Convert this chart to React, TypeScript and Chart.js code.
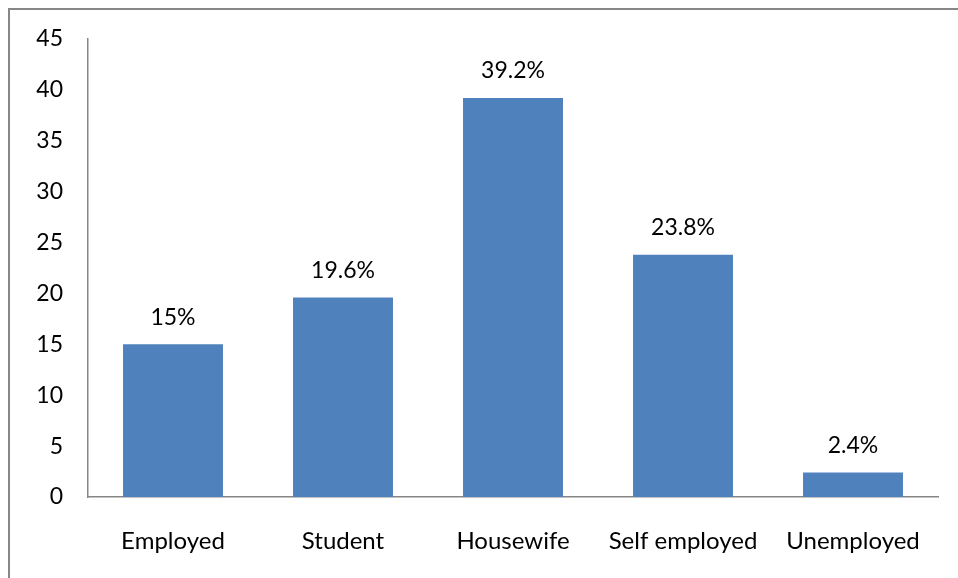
import React, { useEffect, useRef } from "react";
import { Chart, registerables } from "chart.js";

Chart.register(...registerables);

const categories = ["Employed", "Student", "Housewife", "Self employed", "Unemployed"];
const values = [15, 19.6, 39.2, 23.8, 2.4];
const valueLabels = ["15%", "19.6%", "39.2%", "23.8%", "2.4%"];

const FONT = "Lato, 'Liberation Sans', sans-serif";

const dataLabelPlugin = {
  id: "dataLabels",
  afterDatasetsDraw(chart: any) {
    const ctx = chart.ctx;
    const meta = chart.getDatasetMeta(0);
    ctx.save();
    ctx.font = `23px ${FONT}`;
    ctx.fillStyle = "#000";
    ctx.textAlign = "center";
    ctx.textBaseline = "middle";
    meta.data.forEach((bar: any, i: number) => {
      ctx.fillText(valueLabels[i], bar.x, bar.y - 27);
    });
    ctx.restore();
  },
};

export default function App() {
  const ref = useRef<HTMLCanvasElement>(null);
  useEffect(() => {
    if (!ref.current) return;
    const chart = new Chart(ref.current, {
      type: "bar",
      data: {
        labels: categories,
        datasets: [
          {
            data: values,
            backgroundColor: "#4F81BD",
            borderWidth: 0,
            barPercentage: 0.588,
            categoryPercentage: 1,
          },
        ],
      },
      options: {
        animation: false,
        responsive: false,
        maintainAspectRatio: false,
        devicePixelRatio: 1,
        layout: { padding: { top: 29, right: 20, left: 0, bottom: 0 } },
        plugins: { legend: { display: false }, tooltip: { enabled: false } },
        scales: {
          x: {
            grid: { display: false, drawTicks: false },
            border: { display: true, color: "#868686", width: 1.5 },
            ticks: {
              color: "#000",
              font: { family: FONT, size: 24 },
              padding: 30,
              maxRotation: 0,
              autoSkip: false,
            },
            afterFit: (s: any) => {
              s.height = 81;
              s.paddingLeft = 0;
              s.paddingRight = 0;
            },
          },
          y: {
            min: 0,
            max: 45,
            grid: { display: false, drawTicks: false },
            border: { display: true, color: "#868686", width: 1.5 },
            ticks: {
              stepSize: 5,
              color: "#000",
              font: { family: FONT, size: 23 },
              padding: 25,
            },
            afterFit: (s: any) => {
              s.width = 78;
              s.paddingTop = 0;
              s.paddingBottom = 0;
            },
          },
        },
      },
      plugins: [dataLabelPlugin],
    });
    return () => chart.destroy();
  }, []);
  return (
    <div
      style={{
        position: "fixed",
        left: 0,
        top: 0,
        width: 958,
        height: 578,
        overflow: "hidden",
        background: "#fff",
      }}
    >
      <div style={{ position: "absolute", left: 8, top: 8, width: 950, height: 2, background: "#878787" }} />
      <div style={{ position: "absolute", left: 8, top: 8, width: 2, height: 570, background: "#878787" }} />
      <canvas
        ref={ref}
        width={948}
        height={568}
        style={{ position: "absolute", left: 10, top: 10, display: "block", width: 948, height: 568 }}
      />
    </div>
  );
}
